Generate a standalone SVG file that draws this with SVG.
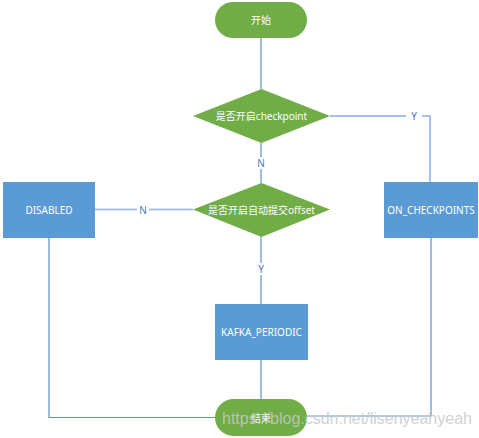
<svg xmlns="http://www.w3.org/2000/svg" width="479" height="438" viewBox="0 0 479 438">
<style>
.t{fill:#ffffff;font-family:"Noto Sans","Noto Sans CJK SC",sans-serif;font-size:10px;text-anchor:middle;dominant-baseline:central}
.g{fill:#70ad47}
.b{fill:#5b9bd5}
.l{fill:none;stroke:#5b8fcf;stroke-width:1.2}
.ll{fill:none;stroke:#a3c4e8;stroke-width:2}
.lb{fill:#4a78c0;font-family:"Noto Sans",sans-serif;font-size:10px;text-anchor:middle;dominant-baseline:central}
</style>
<rect width="479" height="438" fill="#ffffff"/>
<g id="connectors">
<path class="l" d="M261 38V89"/>
<path class="l" d="M261 143V183"/>
<path class="ll" d="M330 116H430V182"/>
<path class="ll" d="M193 209.5H95"/>
<path class="l" d="M261 237V304"/>
<path class="l" d="M261 360V399"/>
<path class="l" d="M49 238V417.5H215"/>
<path class="l" d="M431 238V416H307"/>
<rect x="406" y="110" width="16" height="12" fill="#ffffff"/>
<text class="lb" x="414" y="116">Y</text>
<rect x="255" y="157" width="12" height="12" fill="#ffffff"/>
<text class="lb" x="261" y="163">N</text>
<rect x="137" y="203" width="12" height="12" fill="#ffffff"/>
<text class="lb" x="143" y="209.5">N</text>
<rect x="255" y="263" width="12" height="12" fill="#ffffff"/>
<text class="lb" x="261" y="269">Y</text>
</g>
<g id="start"><rect class="g" x="215" y="2" width="92" height="36" rx="18"/><text class="t" x="261" y="20">开始</text></g>
<g id="d1"><polygon class="g" points="261.5,89 330,116 261.5,143 193,116"/><text class="t" x="261.5" y="116">是否开启checkpoint</text></g>
<g id="d2"><polygon class="g" points="261.5,183 330,209.5 261.5,237 193,209.5"/><text class="t" x="261.5" y="209.5">是否开启自动提交offset</text></g>
<g id="disabled"><rect class="b" x="3" y="182" width="92" height="56"/><text class="t" x="49" y="210">DISABLED</text></g>
<g id="oncp"><rect class="b" x="384" y="182" width="94" height="56"/><text class="t" x="431" y="210">ON_CHECKPOINTS</text></g>
<g id="kafka"><rect class="b" x="215" y="304" width="93" height="56"/><text class="t" x="261.5" y="332">KAFKA_PERIODIC</text></g>
<g id="end"><rect class="g" x="215" y="399" width="92" height="37" rx="18.5"/><text class="t" x="261" y="417.5">结束</text></g>
<text x="222" y="424" font-family="Liberation Sans, Arial, sans-serif" font-size="16" fill="#c8c8c8" fill-opacity="0.85">https://blog.csdn.net/lisenyeahyeah</text>
</svg>
